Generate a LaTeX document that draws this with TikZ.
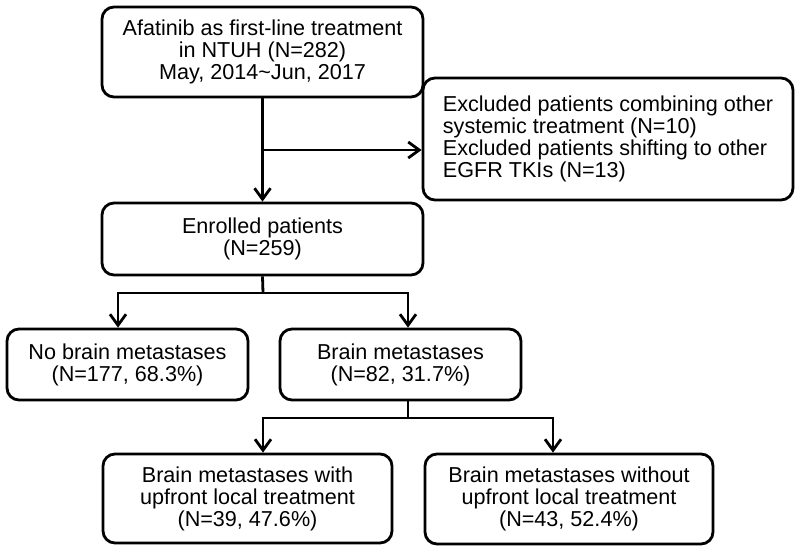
\documentclass[tikz,border=0pt]{standalone}
\usepackage{fontspec}
\setmainfont{Liberation Sans}
\usetikzlibrary{arrows.meta}

\begin{document}
\begin{tikzpicture}[x=1pt, y=-1pt,
        box/.style={draw, rounded corners=12pt, line width=2.8pt, align=center, inner sep=0pt,
            font=\fontsize{21.6}{22}\selectfont},
        conn/.style={line width=2.8pt},
        >={Straight Barb[length=11pt, width=16pt, line width=2.8pt]}]
        \useasboundingbox (0,0) rectangle (800,552);

        % Start and exclusions
        \node[box, minimum width=321pt, minimum height=90pt] (start) at (262.5,52) {Afatinib as first-line treatment\\in NTUH (N=282)\\May, 2014\textasciitilde Jun, 2017};
        \node[box, align=left, minimum width=370pt, minimum height=122pt] (excl) at (608,139) {Excluded patients combining other\\systemic treatment (N=10)\\Excluded patients shifting to other\\EGFR TKIs (N=13)};

        % Enrolled
        \node[box, minimum width=321pt, minimum height=72pt] (enrol) at (262.5,239) {Enrolled patients\\(N=259)};

        % Brain metastases or not
        \node[box, minimum width=241pt, minimum height=71pt] (nobrain) at (127.5,364.5) {No brain metastases\\(N=177, 68.3\%)};
        \node[box, minimum width=241pt, minimum height=71pt] (brain) at (400.5,364.5) {Brain metastases\\(N=82, 31.7\%)};

        % Upfront local treatment
        \node[box, minimum width=289pt, minimum height=89pt] (withlt) at (247.5,498.5) {Brain metastases with\\upfront local treatment\\(N=39, 47.6\%)};
        \node[box, minimum width=288pt, minimum height=90pt] (withoutlt) at (569,499) {Brain metastases without\\upfront local treatment\\(N=43, 52.4\%)};

        % Split points
        \coordinate (b1) at (263,150);
        \coordinate (s1) at (263,293);
        \coordinate (s2) at (408,418);

        % Arrows
        \draw[conn, ->] (start.south) -- (enrol.north);
        \draw[conn, ->] (b1) -- (b1 -| excl.west);
        \draw[conn] (enrol.south) -- (s1);
        \draw[conn, ->] (s1) -| ([xshift=-9.5pt]nobrain.north);
        \draw[conn, ->] (s1) -| ([xshift=7.5pt]brain.north);
        \draw[conn] ([xshift=7.5pt]brain.south) -- (s2);
        \draw[conn, ->] (s2) -| ([xshift=15.5pt]withlt.north);
        \draw[conn, ->] (s2) -| ([xshift=-16pt]withoutlt.north);
    \end{tikzpicture}
\end{document}
